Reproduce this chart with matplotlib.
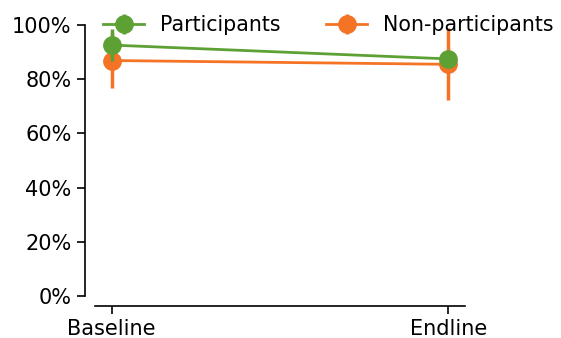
import matplotlib
matplotlib.use("Agg")
import matplotlib.pyplot as plt
import numpy as np
from matplotlib.ticker import PercentFormatter

periods = ["Baseline", "Endline"]
participants = [0.926, 0.875]
participants_err = [0.06, 0.02]
non_participants = [0.869, 0.855]
non_participants_err = [0.10, 0.133]

green = "#5da135"
orange = "#f47325"

fig = plt.figure(figsize=(5.61, 3.38), dpi=100)
ax = fig.add_axes([0.169, 0.124, 0.66, 0.802])

x = np.arange(len(periods))
ax.errorbar(x, participants, yerr=participants_err, color=green, marker="o",
            markersize=12.5, linewidth=2, elinewidth=2.5, label="Participants", zorder=3)
ax.errorbar(x, non_participants, yerr=non_participants_err, color=orange, marker="o",
            markersize=12.5, linewidth=2, elinewidth=2.5, label="Non-participants", zorder=2)

ax.set_xlim(-0.05, 1.05)
ax.set_ylim(0, 1)
ax.set_xticks(x)
ax.set_xticklabels(periods)
ax.set_yticks(np.linspace(0, 1, 6))
ax.yaxis.set_major_formatter(PercentFormatter(1.0, decimals=0))
ax.tick_params(labelsize=15, width=1.2, length=6)

for side in ["top", "right"]:
    ax.spines[side].set_visible(False)
ax.spines["left"].set_position(("outward", 7.2))
ax.spines["bottom"].set_position(("outward", 7.2))
ax.spines["left"].set_linewidth(1.2)
ax.spines["bottom"].set_linewidth(1.2)

ax.legend(loc="center left", bbox_to_anchor=(0.0, 1.0), ncol=2, frameon=False,
          fontsize=14.8, handlelength=2, handletextpad=0.75, columnspacing=2.25,
          borderaxespad=0)

fig.savefig("out.png", dpi=100)
